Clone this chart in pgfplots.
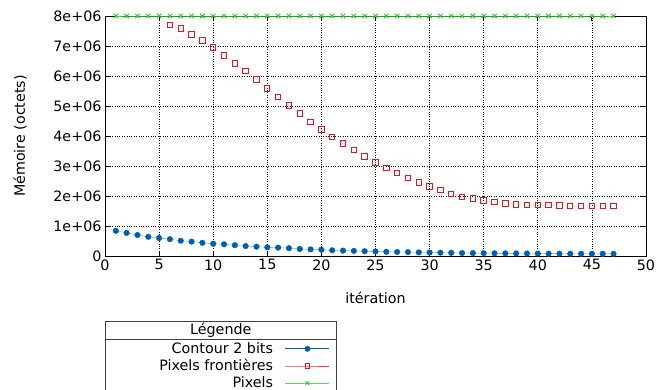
\documentclass[border=0pt]{standalone}
\usepackage{fontspec}
\setmainfont{DejaVu Sans}
\usepackage{pgfplots}
\pgfplotsset{compat=1.18}
\definecolor{cblue}{HTML}{0060AD}
\definecolor{cred}{HTML}{DD181F}
\definecolor{cgreen}{HTML}{22CC22}
\definecolor{lgreen}{HTML}{55DD55}
\newcommand{\ff}{\fontsize{14.3}{17}\selectfont}
\begin{document}
\begin{tikzpicture}
\path[use as bounding box] (0,0) rectangle (659pt,390pt);
\begin{axis}[
 at={(105pt,134pt)}, anchor=south west,
 scale only axis, width=541pt, height=240pt,
 xmin=0,xmax=50,ymin=0,ymax=8e6,
 xtick={0,5,10,15,20,25,30,35,40,45,50},
 xticklabels={0,5,10,15,20,25,30,35,40,45,50},
 ytick={0,1e6,2e6,3e6,4e6,5e6,6e6,7e6,8e6},
 yticklabels={0,1e+06,2e+06,3e+06,4e+06,5e+06,6e+06,7e+06,8e+06},
 scaled y ticks=false, scaled x ticks=false,
 grid=major, grid style={black, dotted, line width=0.6pt},
 tick align=inside, major tick length=5pt,
 tick style={black, line width=0.8pt},
 axis line style={black, line width=0.9pt},
 ticklabel style={font=\ff},
 label style={font=\ff},
 xlabel={itération}, ylabel={Mémoire (octets)},
 xlabel style={at={(axis description cs:0.5,-0.175)}, anchor=center},
 ylabel style={at={(axis description cs:-0.157,0.5)}, anchor=center},
 clip marker paths=false,
 legend style={at={(axis description cs:0.416,-0.352)}, anchor=north east, draw=none, fill=none,
   font=\ff, row sep=0.5pt, inner sep=0pt},
 legend cell align=right, legend plot pos=right,
 legend image code/.code={\path (0pt,0pt) (54pt,0pt);\draw[mark repeat=2,mark phase=2,#1] plot coordinates {(10pt,0pt) (32pt,0pt) (54pt,0pt)};},
]
\addplot[forget plot, cblue!60, line width=0.4pt, mark=*, mark size=2.8pt, mark options={cblue, solid}] coordinates {
(1,0.84e6)(2,0.77e6)(3,0.70e6)(4,0.64e6)(5,0.60e6)(6,0.56e6)(7,0.51e6)(8,0.48e6)(9,0.44e6)(10,0.41e6)
(11,0.39e6)(12,0.36e6)(13,0.33e6)(14,0.31e6)(15,0.29e6)(16,0.28e6)(17,0.26e6)(18,0.235e6)(19,0.22e6)(20,0.21e6)
(21,0.19e6)(22,0.18e6)(23,0.17e6)(24,0.16e6)(25,0.15e6)(26,0.14e6)(27,0.135e6)(28,0.13e6)(29,0.12e6)(30,0.115e6)
(31,0.11e6)(32,0.105e6)(33,0.10e6)(34,0.097e6)(35,0.094e6)(36,0.091e6)(37,0.088e6)(38,0.085e6)(39,0.083e6)(40,0.081e6)
(41,0.079e6)(42,0.077e6)(43,0.075e6)(44,0.074e6)(45,0.073e6)(46,0.072e6)(47,0.071e6)};
\addplot[forget plot, cred!45, line width=0.4pt, densely dotted, mark=square, mark size=2.7pt, mark options={cred, solid, line width=1pt}] coordinates {
(6,7.71e6)(7,7.58e6)(8,7.39e6)(9,7.18e6)(10,6.95e6)(11,6.69e6)(12,6.42e6)(13,6.16e6)(14,5.88e6)(15,5.59e6)
(16,5.30e6)(17,5.02e6)(18,4.75e6)(19,4.47e6)(20,4.22e6)(21,3.97e6)(22,3.75e6)(23,3.53e6)(24,3.32e6)(25,3.12e6)
(26,2.94e6)(27,2.76e6)(28,2.60e6)(29,2.45e6)(30,2.31e6)(31,2.19e6)(32,2.06e6)(33,1.97e6)(34,1.91e6)(35,1.85e6)
(36,1.79e6)(37,1.75e6)(38,1.72e6)(39,1.70e6)(40,1.69e6)(41,1.69e6)(42,1.68e6)(43,1.67e6)(44,1.67e6)(45,1.67e6)
(46,1.67e6)(47,1.67e6)};
\addplot[forget plot, lgreen, line width=0.4pt, mark=x, mark size=3.1pt, mark options={cgreen, solid, line width=0.9pt}] coordinates {
(1,8e6)(2,8e6)(3,8e6)(4,8e6)(5,8e6)(6,8e6)(7,8e6)(8,8e6)(9,8e6)(10,8e6)
(11,8e6)(12,8e6)(13,8e6)(14,8e6)(15,8e6)(16,8e6)(17,8e6)(18,8e6)(19,8e6)(20,8e6)
(21,8e6)(22,8e6)(23,8e6)(24,8e6)(25,8e6)(26,8e6)(27,8e6)(28,8e6)(29,8e6)(30,8e6)
(31,8e6)(32,8e6)(33,8e6)(34,8e6)(35,8e6)(36,8e6)(37,8e6)(38,8e6)(39,8e6)(40,8e6)
(41,8e6)(42,8e6)(43,8e6)(44,8e6)(45,8e6)(46,8e6)(47,8e6)};
\addlegendimage{cblue, line width=0.8pt, mark=*, mark size=2.5pt}
\addlegendentry{Contour 2 bits}
\addlegendimage{cred!85, line width=0.8pt, mark=square, mark size=2.4pt, mark options={cred}}
\addlegendentry{Pixels frontières}
\addlegendimage{lgreen, line width=0.8pt, mark=x, mark size=2.6pt, mark options={cgreen}}
\addlegendentry{Pixels}
\end{axis}
\draw[black!75, line width=0.8pt] (105pt,0pt) -- (105pt,68.3pt) -- (336.7pt,68.3pt) -- (336.7pt,0pt);
\draw[black!75, line width=0.8pt] (105pt,51pt) -- (336.7pt,51pt);
\node[font=\ff, inner sep=0pt] at (220.8pt,59.5pt) {Légende};
\end{tikzpicture}
\end{document}
